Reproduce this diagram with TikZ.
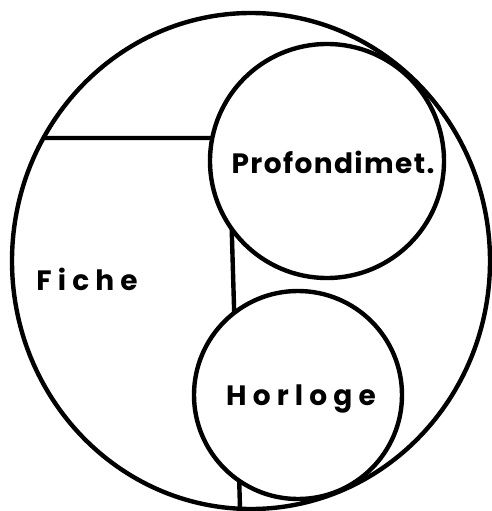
\documentclass[tikz,border=0pt]{standalone}
\usepackage{fontspec}
\newfontfamily\lblfont[LetterSpace=22]{Poppins}
\newfontfamily\lbltight[LetterSpace=5]{Poppins}
\begin{document}
\begin{tikzpicture}[x=1pt,y=-1pt,line width=4.4pt,
    disc/.style={circle,draw,fill=white,inner sep=0pt},
    lbl/.style={anchor=base,inner sep=0pt,font=\lblfont\bfseries\fontsize{28}{30}\selectfont}]
    \useasboundingbox (0,0) rectangle (491,511);

    % outer outline
    \draw (251,261) ellipse [x radius=239, y radius=248];

    % frame of the card
    \coordinate (tl) at (43,138);
    \coordinate (tr) at (229,138);
    \coordinate (br) at (240,508);
    \draw (tl) -- (tr) -- (br);

    \node[disc,minimum size=234pt] (prof) at (327,161) {};
    \node[disc,minimum size=208pt] (horl) at (298,395) {};

    \node[lbl] (fiche) at (87,290) {Fiche};
    \node[lbl,font=\lbltight\bfseries\fontsize{28}{30}\selectfont] (proflbl) at (333,173) {Profondimet.};
    \node[lbl] (horllbl) at (301,405) {Horloge};
\end{tikzpicture}
\end{document}
